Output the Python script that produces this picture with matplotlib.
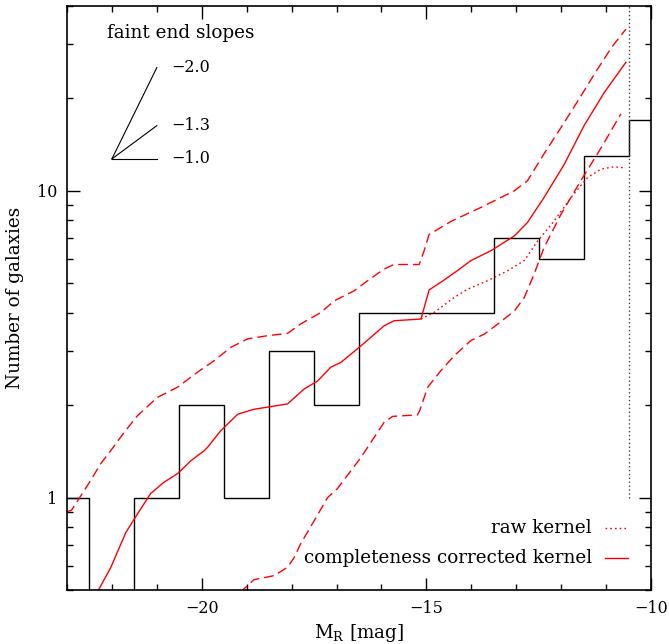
import numpy as np
import matplotlib
matplotlib.use("Agg")
import matplotlib.pyplot as plt
from matplotlib.ticker import FixedLocator, NullFormatter, FixedFormatter

# ---------------- data ----------------
bin_centers = [-23, -22, -21, -20, -19, -18, -17, -16, -15, -14, -13, -12, -11, -10]
bin_counts = [1, 0, 1, 2, 1, 3, 2, 4, 4, 4, 7, 6, 13, 17]

corr_x = [-22.30, -22.03, -21.69, -21.42, -21.14, -20.85, -20.53, -20.24, -19.95, -19.87,
          -19.58, -19.20, -18.84, -18.46, -18.09, -17.72, -17.42, -17.13, -16.90, -16.46,
          -15.94, -15.72, -15.12, -14.94, -14.68, -14.31, -14.01, -13.56, -13.04, -12.75,
          -12.38, -11.93, -11.49, -11.04, -10.56]
corr_y = [0.50, 0.59, 0.77, 0.89, 1.03, 1.12, 1.20, 1.32, 1.42, 1.46,
          1.65, 1.87, 1.94, 1.98, 2.02, 2.26, 2.40, 2.66, 2.76, 3.12,
          3.63, 3.77, 3.82, 4.75, 5.03, 5.49, 5.92, 6.38, 7.13, 7.88,
          9.51, 12.2, 16.3, 20.9, 26.2]

raw_x = [-15.12, -14.83, -14.38, -14.08, -13.64, -13.19, -12.82, -12.52, -12.15, -11.78,
         -11.41, -11.11, -10.82, -10.56]
raw_y = [3.82, 4.01, 4.49, 4.78, 5.09, 5.49, 5.92, 6.87, 7.99, 9.51,
         11.05, 11.77, 11.97, 11.86]

upper_x = [-23.0, -22.9, -22.69, -22.47, -22.25, -22.03, -21.73, -21.43, -20.99, -20.54,
           -20.10, -19.73, -19.35, -18.98, -18.54, -18.09, -17.80, -17.35, -17.05, -16.61,
           -16.31, -15.94, -15.72, -15.16, -15.05, -14.94, -14.45, -13.79, -13.04, -12.75,
           -12.38, -12.00, -11.63, -11.26, -10.88, -10.56]
upper_y = [0.90, 0.91, 1.015, 1.14, 1.29, 1.42, 1.63, 1.85, 2.12, 2.29,
           2.56, 2.79, 3.09, 3.29, 3.37, 3.43, 3.68, 4.01, 4.38, 4.72,
           5.09, 5.56, 5.75, 5.75, 6.38, 7.2, 7.95, 8.82, 10.0, 10.78,
           13.2, 16.1, 19.6, 24.0, 29.3, 33.6]

lower_x = [-19.15, -18.84, -18.39, -18.09, -17.94, -17.80, -17.50, -17.20, -16.98, -16.46,
           -15.94, -15.75, -15.20, -15.15, -14.97, -14.68, -14.38, -14.01, -13.71, -13.41,
           -13.04, -12.82, -12.60, -12.38, -12.00, -11.56, -11.11, -10.67]
lower_y = [0.49, 0.54, 0.557, 0.593, 0.639, 0.707, 0.84, 1.0, 1.07, 1.35,
           1.76, 1.84, 1.86, 1.92, 2.29, 2.59, 2.90, 3.25, 3.41, 3.68,
           4.06, 4.49, 5.36, 6.53, 8.4, 10.8, 13.8, 17.8]

limit_mag = -10.5
limit_range = [1, 40]

slope_labels = ["\u22122.0", "\u22121.3", "\u22121.0"]
slope_origin = (-22.0, 12.7)
slope_end_x = -21.0
slope_end_y = [25.2, 16.3, 12.7]

x_major = [-20, -15, -10]
x_major_labels = ["\u221220", "\u221215", "\u221210"]
y_major = [1, 10]
y_major_labels = ["1", "10"]

# ---------------- figure ----------------
plt.rcParams['font.family'] = ['DejaVu Serif']
FS_TICK = 11.5
FS = 13.2
fig = plt.figure(figsize=(6.69, 6.44), dpi=100)
ax = fig.add_axes([67/669, 54/644, 584/669, 584/644])
ax.set_yscale('log')
ax.set_xlim(-23, -10)
ax.set_ylim(0.5, 40)

# histogram
centers = np.array(bin_centers, dtype=float)
edges = np.concatenate([centers - 0.5, [centers[-1] + 0.5]])
vals = np.array(bin_counts, dtype=float)
vals_plot = np.where(vals > 0, vals, 1e-3)
ax.stairs(vals_plot, edges, baseline=None, color='black', lw=1.0)

red = '#ff0000'
ax.plot(upper_x, upper_y, color=red, lw=1.0, ls=(0, (7, 3.6)))
ax.plot(lower_x, lower_y, color=red, lw=1.0, ls=(0, (7, 3.6)))
ax.plot(raw_x, raw_y, color=red, lw=1.0, ls=(0, (1.2, 2.2)))
ax.plot(corr_x, corr_y, color=red, lw=1.0)

# completeness limit
ax.plot([limit_mag, limit_mag], limit_range, color='#444444', lw=1.0, ls=(0, (1, 1.8)))

# slope indicator
for lab, ey in zip(slope_labels, slope_end_y):
    ax.plot([slope_origin[0], slope_end_x], [slope_origin[1], ey], color='black', lw=0.8)
    ax.text(slope_end_x + 0.33, ey, lab, fontsize=FS_TICK, ha='left', va='center')
ax.text(-20.47, 32.6, "faint end slopes", fontsize=FS, ha='center', va='center')

# legend (manual)
ax.text(0.899, 0.107, "raw kernel", transform=ax.transAxes, fontsize=FS,
        ha='right', va='center')
ax.plot([0.921, 0.960], [0.107, 0.107], transform=ax.transAxes, color=red, lw=1.0,
        ls=(0, (1.2, 2.2)))
ax.text(0.899, 0.054, "completeness corrected kernel", transform=ax.transAxes,
        fontsize=FS, ha='right', va='center')
ax.plot([0.921, 0.960], [0.054, 0.054], transform=ax.transAxes, color=red, lw=1.0)

# ticks
ax.xaxis.set_major_locator(FixedLocator(x_major))
ax.xaxis.set_major_formatter(FixedFormatter(x_major_labels))
ax.xaxis.set_minor_locator(FixedLocator(np.arange(-23, -9, 1)))
ax.xaxis.set_minor_formatter(NullFormatter())
ax.yaxis.set_major_locator(FixedLocator(y_major))
ax.yaxis.set_major_formatter(FixedFormatter(y_major_labels))
ax.yaxis.set_minor_locator(FixedLocator([0.5, 0.6, 0.7, 0.8, 0.9, 2, 3, 4, 5, 6, 7, 8, 9, 20, 30, 40]))
ax.yaxis.set_minor_formatter(NullFormatter())
ax.tick_params(which='both', direction='in', top=True, right=True, width=1.0,
               labelsize=FS_TICK, colors='black')
ax.tick_params(which='major', length=9, pad=7)
ax.tick_params(which='minor', length=4.5)
for s in ax.spines.values():
    s.set_linewidth(1.2)

ax.set_xlabel("M$_\\mathregular{R}$ [mag]", fontsize=FS)
ax.xaxis.set_label_coords(0.5, -0.055)
ax.set_ylabel("Number of galaxies", fontsize=FS)
ax.yaxis.set_label_coords(-0.074, 0.5)

fig.savefig("out.png", dpi=100)
